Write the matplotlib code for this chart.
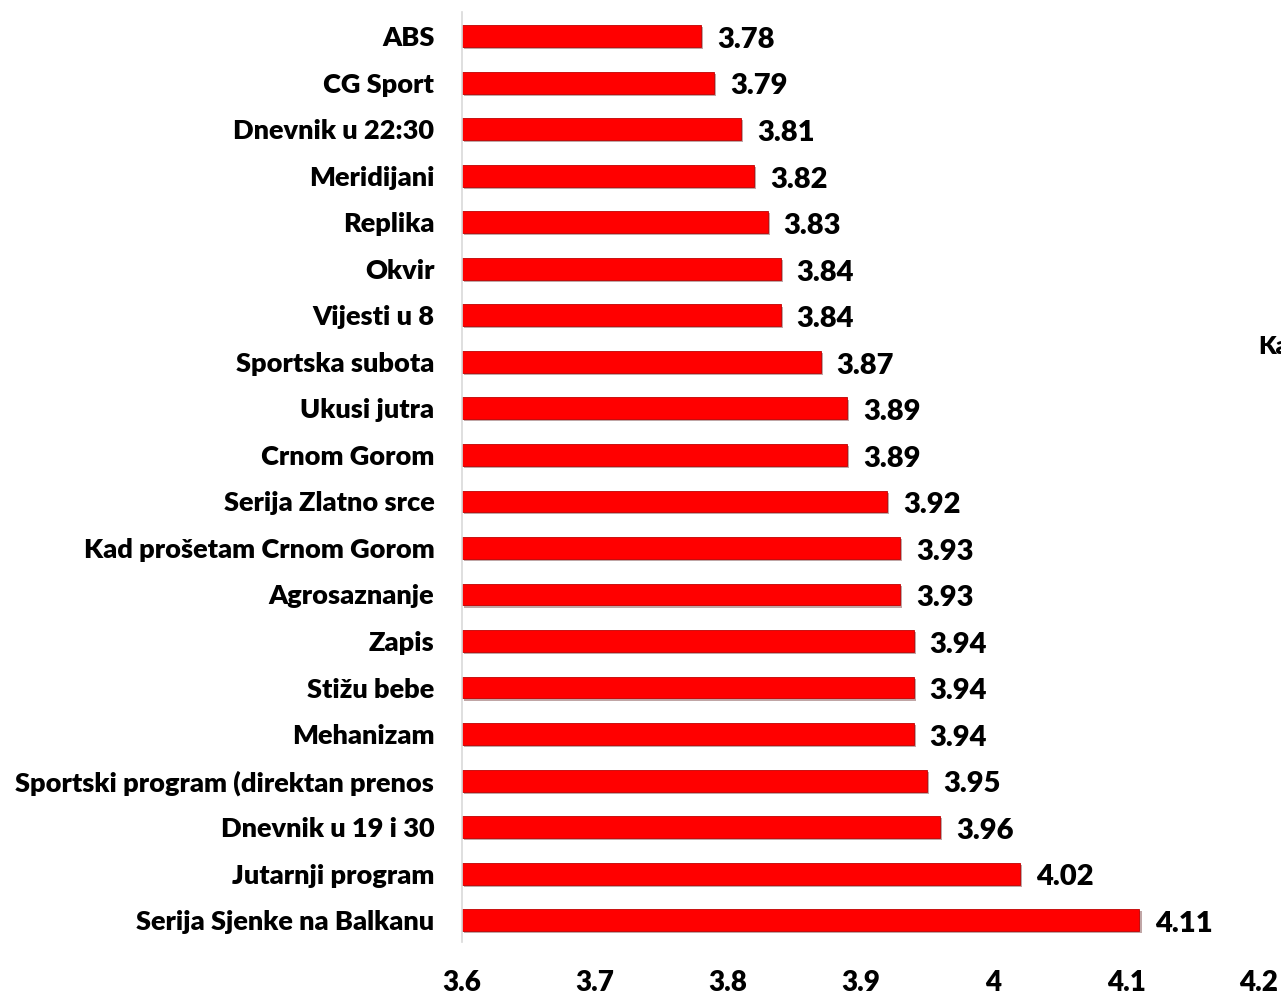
import numpy as np
import matplotlib.pyplot as plt
import matplotlib.patheffects as pe

# Data (bottom to top)
shows = ["Serija Sjenke na Balkanu", "Jutarnji program", "Dnevnik u 19 i 30",
         "Sportski program (direktan prenos", "Mehanizam", "Stižu bebe", "Zapis",
         "Agrosaznanje", "Kad prošetam Crnom Gorom", "Serija Zlatno srce",
         "Crnom Gorom", "Ukusi jutra", "Sportska subota", "Vijesti u 8", "Okvir",
         "Replika", "Meridijani", "Dnevnik u 22:30", "CG Sport", "ABS"]
scores = [4.11, 4.02, 3.96, 3.95, 3.94, 3.94, 3.94, 3.93, 3.93, 3.92,
          3.89, 3.89, 3.87, 3.84, 3.84, 3.83, 3.82, 3.81, 3.79, 3.78]
xticks = [3.6, 3.7, 3.8, 3.9, 4.0, 4.1, 4.2]
xtick_labels = ["3.6", "3.7", "3.8", "3.9", "4", "4.1", "4.2"]

plt.rcParams['font.family'] = ['Lato', 'DejaVu Sans']
plt.rcParams['font.weight'] = 'heavy'

fig = plt.figure(figsize=(12.81, 9.94), dpi=100)
ax = fig.add_axes([0.3607, 0.0523, 0.6221, 0.9356])

ypos = np.arange(len(shows))
bars = ax.barh(ypos, [s - 3.6 for s in scores], left=3.6, height=0.47,
               color='#ff0000', edgecolor='#c00000', linewidth=0.6)
for b in bars:
    b.set_path_effects([pe.SimplePatchShadow(offset=(1.5, -1.5), alpha=0.35), pe.Normal()])

for y, s in zip(ypos, scores):
    ax.text(s + 0.012, y - 0.08, f"{s:.2f}", va='center', ha='left',
            fontsize=21, fontweight='heavy', color='black')

ax.set_xlim(3.6, 4.2)
ax.set_ylim(-0.47, 19.52)
ax.set_yticks(ypos)
ax.set_yticklabels(shows, fontsize=19.5, fontweight='heavy')
ax.set_xticks(xticks)
ax.set_xticklabels(xtick_labels, fontsize=20, fontweight='heavy')
ax.tick_params(axis='y', length=0, pad=20)
ax.tick_params(axis='x', length=0, pad=20)

for side in ['top', 'right', 'bottom']:
    ax.spines[side].set_visible(False)
ax.spines['left'].set_color('#d9d9d9')
ax.spines['left'].set_linewidth(1.2)

# legend/axis title that sits cut off at the right edge, as in the source
fig.text(1258 / 1281, 1 - 347 / 994, "Kategorija", fontsize=18, fontweight='heavy',
         va='center', ha='left')

fig.savefig("out.png", dpi=100)
